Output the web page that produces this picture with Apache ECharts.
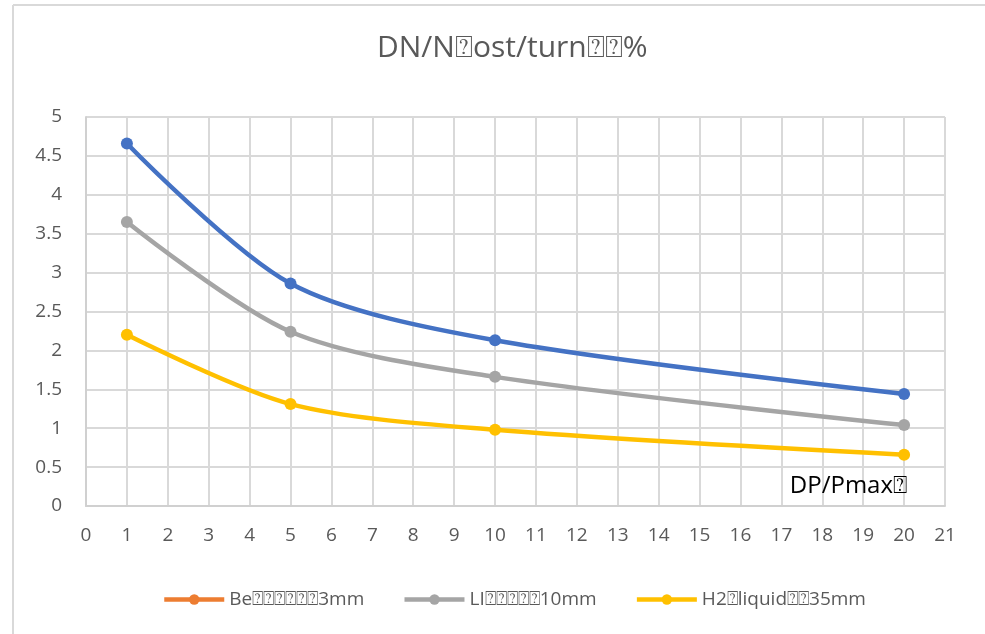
<!DOCTYPE html>
<html>
<head>
<meta charset="utf-8">
<script src="https://cdn.jsdelivr.net/npm/echarts@6/dist/echarts.min.js"></script>
<style>html,body{margin:0;padding:0;background:#fff}#c{width:985px;height:634px}</style>
</head>
<body>
<div id="c"></div>
<script>
var T = '\u2370';
var titleText = 'DN/N' + T + 'ost/turn' + T + T + '%';
var xAxisName = 'DP/Pmax' + T;
var seriesNames = ['Be' + T+T+T+T+T+T + '3mm', 'LI' + T+T+T+T+T + '10mm', 'H2' + T + 'liquid' + T+T + '35mm'];
var xValues = [1, 5, 10, 20];
var beValues = [4.66, 2.86, 2.13, 1.44];
var liValues = [3.65, 2.24, 1.66, 1.04];
var h2Values = [2.2, 1.31, 0.98, 0.66];

function pairs(v){ return xValues.map(function(x,i){return [x, v[i]];}); }

var chart = echarts.init(document.getElementById('c'), null, {renderer:'canvas'});
var font = "'Open Sans', 'DejaVu Sans', sans-serif";
var gridColor = '#d9d9d9';
function mk(name, data, color){
  return {
    name: name, type: 'line', data: pairs(data), smooth: 0.3,
    symbol: 'circle', symbolSize: 12,
    lineStyle: {color: color, width: 4.5},
    itemStyle: {color: color},
    emphasis: {disabled: true}
  };
}
chart.setOption({
  animation: false,
  backgroundColor: '#fff',
  textStyle: {fontFamily: font},
  title: {
    text: titleText, left: 372, top: 28,
    textStyle: {fontFamily: font, fontSize: 30, fontWeight: 'normal', color: '#595959'}
  },
  grid: {left: 86, right: 40, top: 117, bottom: 128},
  legend: {
    bottom: 20, left: 157, itemGap: 38, itemWidth: 60, itemHeight: 13,
    textStyle: {fontFamily: font, fontSize: 19, color: '#595959'},
    data: [
      {name: seriesNames[0], itemStyle: {color: '#ED7D31'}, lineStyle: {color: '#ED7D31', width: 4.5}},
      {name: seriesNames[1], itemStyle: {color: '#A5A5A5'}, lineStyle: {color: '#A5A5A5', width: 4.5}},
      {name: seriesNames[2], itemStyle: {color: '#FFC000'}, lineStyle: {color: '#FFC000', width: 4.5}}
    ]
  },
  xAxis: {
    type: 'value', min: 0, max: 21, interval: 1,
    name: xAxisName, nameLocation: 'end', nameGap: 0,
    nameTextStyle: {fontFamily: font, fontSize: 24, color: '#000', align: 'right', verticalAlign: 'bottom', padding: [0, 38, 8, 0]},
    axisLine: {show: true, lineStyle: {color: '#d0d0d0', width: 2}},
    axisTick: {show: false},
    axisLabel: {fontFamily: font, fontSize: 19, color: '#595959', margin: 20},
    splitLine: {show: true, lineStyle: {color: gridColor, width: 2}}
  },
  yAxis: {
    type: 'value', min: 0, max: 5, interval: 0.5,
    axisLine: {show: true, lineStyle: {color: '#d0d0d0', width: 2}},
    axisTick: {show: false},
    axisLabel: {fontFamily: font, fontSize: 19, color: '#595959', margin: 24,
      formatter: function(v){ return String(v); }},
    splitLine: {show: true, lineStyle: {color: gridColor, width: 2}}
  },
  graphic: [
    {type: 'line', shape: {x1: 13, y1: 5, x2: 13, y2: 634}, style: {stroke: '#d9d9d9', lineWidth: 2}},
    {type: 'line', shape: {x1: 13, y1: 5, x2: 985, y2: 5}, style: {stroke: '#d9d9d9', lineWidth: 2}}
  ],
  series: [
    mk(seriesNames[0], beValues, '#4472C4'),
    mk(seriesNames[1], liValues, '#A5A5A5'),
    mk(seriesNames[2], h2Values, '#FFC000')
  ]
});
</script>
</body>
</html>
